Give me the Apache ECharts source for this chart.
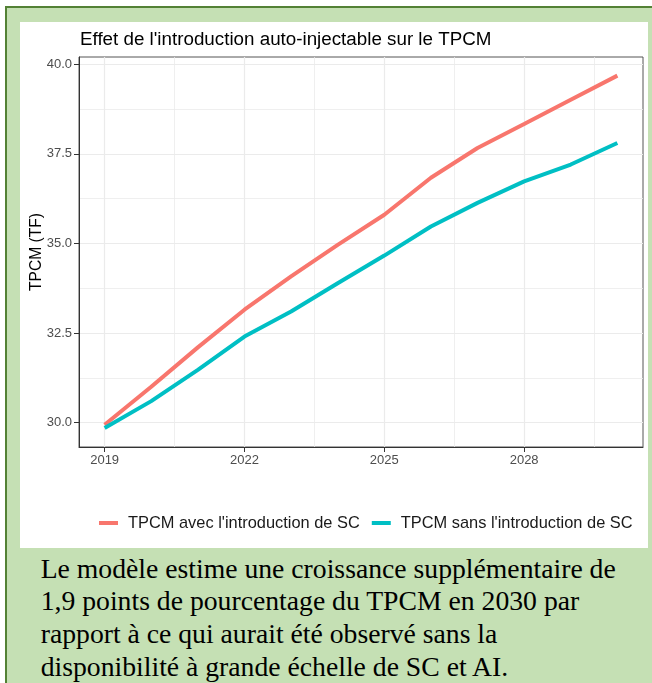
<!DOCTYPE html>
<html>
<head>
<meta charset="utf-8">
<script src="https://cdn.jsdelivr.net/npm/echarts@6/dist/echarts.min.js"></script>
<style>
html, body { margin:0; padding:0; width:652px; height:683px; overflow:hidden; background:#fff; }
#cadre { position:absolute; left:5px; top:6px; width:700px; height:720px; background:#c5e0b4; border:2px solid #538135; box-sizing:border-box; }
#container { position:absolute; left:20px; top:22px; width:628px; height:526px; background:#fff; }
#texte { position:absolute; left:40.7px; top:552.5px; font-family:"Liberation Serif","Times New Roman",serif; font-size:27.7px; line-height:32.7px; color:#000; white-space:nowrap; }
</style>
</head>
<body>
<div id="cadre"></div>
<div id="container"></div>
<div id="texte">Le modèle estime une croissance supplémentaire de<br>1,9 points de pourcentage du TPCM en 2030 par<br>rapport à ce qui aurait été observé sans la<br>disponibilité à grande échelle de SC et AI.</div>
<script>
var myChart = echarts.init(document.getElementById('container'));

// donnees
var annees = [2019, 2020, 2021, 2022, 2023, 2024, 2025, 2026, 2027, 2028, 2029, 2030];
var avecSC = [29.94, 31.0, 32.1, 33.15, 34.08, 34.96, 35.8, 36.83, 37.66, 38.33, 39.01, 39.68];
var sansSC = [29.85, 30.6, 31.47, 32.4, 33.1, 33.89, 34.66, 35.47, 36.13, 36.73, 37.2, 37.8];
var nomsSeries = ["TPCM avec l'introduction de SC", "TPCM sans l'introduction de SC"];

var xTicks = [2019, 2022, 2025, 2028];
var xMinor = [2020.5, 2023.5, 2026.5, 2029.5];
var yTicks = [30, 32.5, 35, 37.5, 40];
var yMinor = [31.25, 33.75, 36.25, 38.75];

var police = '"Liberation Sans", Arial, sans-serif';

function paires(valeurs) {
    var res = [];
    for (var i = 0; i < annees.length; i++) {
        res.push([annees[i], valeurs[i]]);
    }
    return res;
}

var option = {
    animation: false,
    textStyle: { fontFamily: police },
    title: {
        text: "Effet de l'introduction auto-injectable sur le TPCM",
        left: 60,
        top: 8,
        padding: 0,
        textStyle: { fontFamily: police, fontSize: 18.8, fontWeight: 'normal', color: '#000' }
    },
    legend: {
        left: 79,
        top: 493,
        icon: 'rect',
        itemWidth: 19,
        itemHeight: 4,
        itemGap: 12,
        padding: 0,
        textStyle: { fontFamily: police, fontSize: 16.4, color: '#1a1a1a', padding: [0, 0, 0, 5] },
        data: nomsSeries
    },
    grid: {
        left: 59,
        top: 35,
        width: 564,
        height: 390,
        show: true,
        borderColor: '#555',
        borderWidth: 1,
        containLabel: false,
        outerBoundsMode: 'none'
    },
    xAxis: [{
        type: 'value',
        min: 2018.45,
        max: 2030.55,
        position: 'bottom',
        axisLine: { onZero: false, lineStyle: { color: '#333', width: 1 } },
        axisTick: { customValues: xTicks, length: 5, lineStyle: { color: '#333' } },
        axisLabel: {
            customValues: xTicks,
            margin: 7,
            color: '#4d4d4d',
            fontSize: 13,
            fontFamily: police,
            formatter: function (v) { return String(v); }
        },
        splitLine: { show: true, lineStyle: { color: '#ebebeb', width: 1.2 } }
    }, {
        type: 'value',
        min: 2018.45,
        max: 2030.55,
        position: 'top',
        axisLine: { show: false },
        axisTick: { show: false, customValues: xMinor },
        axisLabel: { show: false },
        splitLine: { show: true, lineStyle: { color: '#ebebeb', width: 0.8 } }
    }],
    yAxis: [{
        type: 'value',
        min: 29.32,
        max: 40.2,
        position: 'left',
        name: 'TPCM (TF)',
        nameLocation: 'middle',
        nameGap: 34,
        nameMoveOverlap: false,
        nameTextStyle: { fontFamily: police, fontSize: 15.6, color: '#000' },
        axisLine: { show: true, onZero: false, lineStyle: { color: '#333', width: 1 } },
        axisTick: { show: true, customValues: yTicks, length: 5, lineStyle: { color: '#333' } },
        axisLabel: {
            customValues: yTicks,
            margin: 7,
            color: '#4d4d4d',
            fontSize: 13,
            fontFamily: police,
            formatter: function (v) { return v.toFixed(1); }
        },
        splitLine: { show: true, lineStyle: { color: '#ebebeb', width: 1.2 } }
    }, {
        type: 'value',
        min: 29.32,
        max: 40.2,
        position: 'right',
        axisLine: { show: false },
        axisTick: { show: false, customValues: yMinor },
        axisLabel: { show: false },
        splitLine: { show: true, lineStyle: { color: '#ebebeb', width: 0.8 } }
    }],
    series: [{
        name: nomsSeries[0],
        type: 'line',
        xAxisIndex: 0,
        yAxisIndex: 0,
        symbol: 'none',
        color: '#F8766D',
        lineStyle: { width: 4, color: '#F8766D' },
        data: paires(avecSC)
    }, {
        name: nomsSeries[1],
        type: 'line',
        xAxisIndex: 0,
        yAxisIndex: 0,
        symbol: 'none',
        color: '#00BFC4',
        lineStyle: { width: 4, color: '#00BFC4' },
        data: paires(sansSC)
    }]
};

myChart.setOption(option);
</script>
</body>
</html>
